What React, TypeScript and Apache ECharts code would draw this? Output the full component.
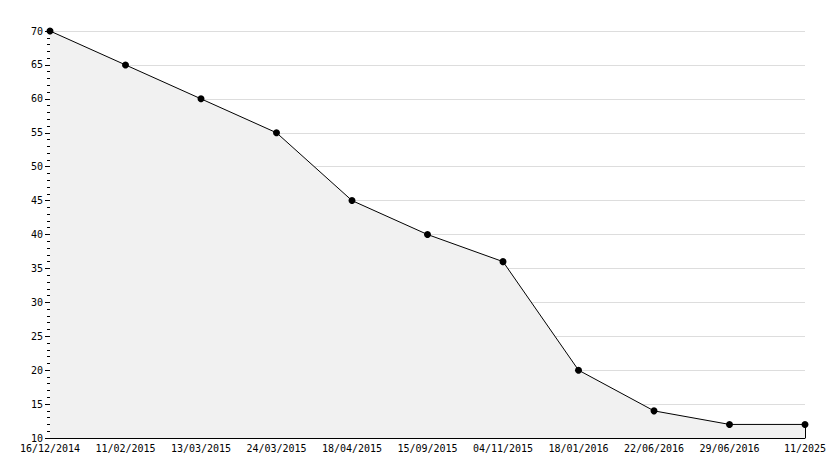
import React, { useEffect, useRef } from "react";
import * as echarts from "echarts";

const categories = [
  "16/12/2014", "11/02/2015", "13/03/2015", "24/03/2015", "18/04/2015",
  "15/09/2015", "04/11/2015", "18/01/2016", "22/06/2016", "29/06/2016", "11/2025",
];
const values = [70, 65, 60, 55, 45, 40, 36, 20, 14, 12, 12];
const yMin = 10;
const yMax = 70;
const yStep = 5;

export default function App() {
  const ref = useRef<HTMLDivElement>(null);
  useEffect(() => {
    const chart = echarts.init(ref.current!, null, { renderer: "svg" });
    const font = "DejaVu Sans Mono";
    const last = categories[categories.length - 1];
    chart.setOption({
      animation: false,
      backgroundColor: "#ffffff",
      grid: { left: 50, right: 29, top: 31, bottom: 30, containLabel: false },
      xAxis: {
        type: "category",
        data: categories,
        boundaryGap: false,
        axisLine: { lineStyle: { color: "#000", width: 1 } },
        axisTick: { inside: true, length: 5, lineStyle: { color: "#000" } },
        axisLabel: { color: "#000", fontFamily: font, fontSize: 10, margin: 5, interval: 0 },
        splitLine: { show: false },
      },
      yAxis: {
        type: "value",
        min: yMin,
        max: yMax,
        interval: yStep,
        axisLine: { show: true, lineStyle: { color: "#000", width: 1 } },
        axisTick: { show: true, length: 5, lineStyle: { color: "#000" } },
        minorTick: { show: true, splitNumber: 5, length: 3, lineStyle: { color: "#000" } },
        axisLabel: { color: "#000", fontFamily: font, fontSize: 10, margin: 7 },
        splitLine: { show: true, lineStyle: { color: "#dddddd", width: 1 } },
      },
      series: [
        {
          type: "line",
          data: values,
          symbol: "circle",
          symbolSize: 7,
          itemStyle: { color: "#000" },
          lineStyle: { color: "#000", width: 1 },
          areaStyle: { color: "#f1f1f1", opacity: 1 },
          markLine: {
            silent: true,
            symbol: "none",
            label: { show: false },
            lineStyle: { color: "#000", width: 1, type: "solid" },
            data: [[{ coord: [last, yMin] }, { coord: [last, values[values.length - 1]] }]],
          },
        },
      ],
    });
    return () => chart.dispose();
  }, []);
  return <div ref={ref} style={{ width: 834, height: 468, position: "absolute", left: 0, top: 0 }} />;
}
